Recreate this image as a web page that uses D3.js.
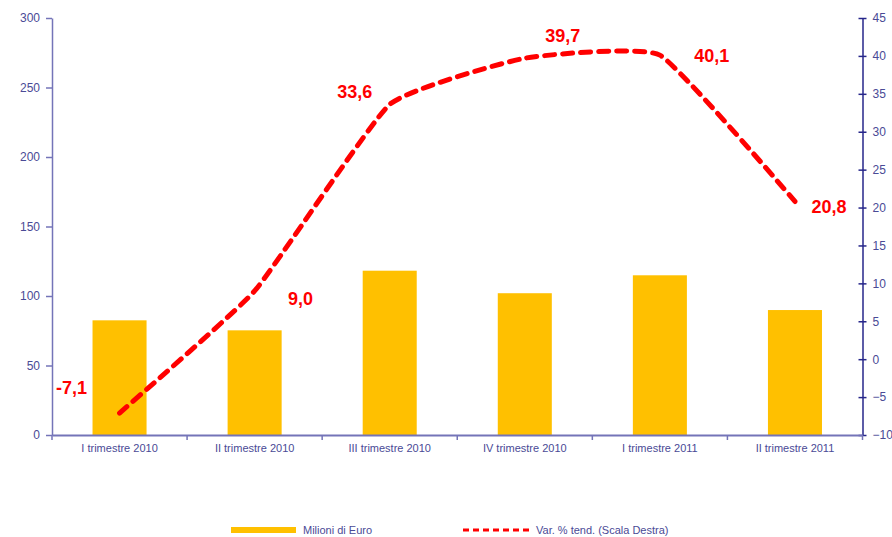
<!DOCTYPE html>
<html>
<head>
<meta charset="utf-8">
<script src="https://cdn.jsdelivr.net/npm/d3@7"></script>
<style>
  html, body { margin: 0; padding: 0; background: #fff; }
  svg { display: block; font-family: "Liberation Sans", Arial, sans-serif; }
</style>
</head>
<body>
<svg id="chart" width="892" height="537"></svg>
<script>
// ---- data ----
const categories = ["I trimestre 2010", "II trimestre 2010", "III trimestre 2010",
                    "IV trimestre 2010", "I trimestre 2011", "II trimestre 2011"];
const milioniEuro = [82.5, 75.3, 118.2, 102, 114.9, 89.9];
const varTend = [-7.1, 9.0, 33.6, 39.7, 40.1, 20.8];
const varTendLabels = ["-7,1", "9,0", "33,6", "39,7", "40,1", "20,8"];
const leftTicks = [0, 50, 100, 150, 200, 250, 300];
const rightTicks = [-10, -5, 0, 5, 10, 15, 20, 25, 30, 35, 40, 45];
const seriesNames = ["Milioni di Euro", "Var. % tend. (Scala Destra)"];

// ---- layout ----
const plot = { left: 52, right: 862.5, top: 18, bottom: 435 };
const labelOffsets = [[-48, -25], [46, 8], [-35, -12], [38, -22], [52, 1], [34, 6]];
const axisText = "#4a4a96";

const svg = d3.select("#chart");

const x = d3.scaleBand().domain(categories).range([plot.left, plot.right]).paddingInner(0).paddingOuter(0);
const yL = d3.scaleLinear().domain([0, 300]).range([plot.bottom, plot.top]);
const yR = d3.scaleLinear().domain([-10, 45]).range([plot.bottom, plot.top]);

// bars
const bw = x.bandwidth() * 0.4;
svg.append("g").selectAll("rect").data(milioniEuro).join("rect")
  .attr("x", (d, i) => x(categories[i]) + (x.bandwidth() - bw) / 2)
  .attr("y", d => yL(d))
  .attr("width", bw)
  .attr("height", d => yL(0) - yL(d))
  .attr("fill", "#ffc000");

// left axis
const gL = svg.append("g").attr("transform", `translate(${plot.left},0)`)
  .call(d3.axisLeft(yL).tickValues(leftTicks).tickSize(6).tickPadding(6).tickSizeOuter(0));
gL.select(".domain").attr("stroke", "#7474b8").attr("stroke-width", 1.5);
gL.selectAll(".tick line").attr("stroke", "#7474b8").attr("stroke-width", 1.5);
gL.selectAll("text").attr("fill", axisText).style("font-size", "12px")
  .style("font-family", "'Liberation Sans', Arial, sans-serif");

// right axis
const gR = svg.append("g").attr("transform", `translate(${plot.right},0)`)
  .call(d3.axisRight(yR).tickValues(rightTicks).tickSize(4).tickPadding(6).tickSizeOuter(0));
gR.select(".domain").attr("stroke", "#26268a").attr("stroke-width", 1.5);
gR.selectAll(".tick line").attr("stroke", "#26268a").attr("stroke-width", 1.5).attr("x1", -4);
gR.selectAll("text").attr("fill", axisText).style("font-size", "12px")
  .style("font-family", "'Liberation Sans', Arial, sans-serif");

// x axis
const gX = svg.append("g").attr("transform", `translate(0,${plot.bottom})`)
  .call(d3.axisBottom(x).tickSize(0).tickPadding(9));
gX.select(".domain").attr("stroke", "#7474b8").attr("stroke-width", 2);
gX.selectAll("text").attr("fill", axisText).style("font-size", "11px")
  .style("font-family", "'Liberation Sans', Arial, sans-serif");
// boundary ticks
const bounds = categories.map(c => x(c)).concat([plot.right]);
svg.append("g").selectAll("line").data(bounds).join("line")
  .attr("x1", d => d).attr("x2", d => d)
  .attr("y1", plot.bottom).attr("y2", plot.bottom + 5)
  .attr("stroke", "#7474b8").attr("stroke-width", 1.5);

// line
const cx = i => x(categories[i]) + x.bandwidth() / 2;
const line = d3.line().x((d, i) => cx(i)).y(d => yR(d)).curve(d3.curveCardinal.tension(0.6));
svg.append("path").datum(varTend)
  .attr("d", line)
  .attr("fill", "none")
  .attr("stroke", "#ff0000")
  .attr("stroke-width", 5)
  .attr("stroke-dasharray", "10,8")
  .attr("stroke-linecap", "round");

// line labels
svg.append("g").selectAll("text").data(varTend).join("text")
  .attr("x", (d, i) => cx(i) + labelOffsets[i][0])
  .attr("y", (d, i) => yR(d) + labelOffsets[i][1])
  .attr("text-anchor", "middle")
  .attr("dominant-baseline", "central")
  .attr("fill", "#ff0000")
  .style("font-size", "18px")
  .style("font-weight", "bold")
  .text((d, i) => varTendLabels[i]);

// legend
const lg = svg.append("g");
lg.append("line").attr("x1", 231).attr("x2", 296).attr("y1", 530).attr("y2", 530)
  .attr("stroke", "#ffc000").attr("stroke-width", 6);
lg.append("text").attr("x", 303).attr("y", 530).attr("dominant-baseline", "central")
  .attr("fill", axisText).style("font-size", "11px").text(seriesNames[0]);
lg.append("line").attr("x1", 463).attr("x2", 530).attr("y1", 530).attr("y2", 530)
  .attr("stroke", "#ff0000").attr("stroke-width", 3).attr("stroke-dasharray", "6,4");
lg.append("text").attr("x", 536).attr("y", 530).attr("dominant-baseline", "central")
  .attr("fill", axisText).style("font-size", "11px").text(seriesNames[1]);
</script>
</body>
</html>
